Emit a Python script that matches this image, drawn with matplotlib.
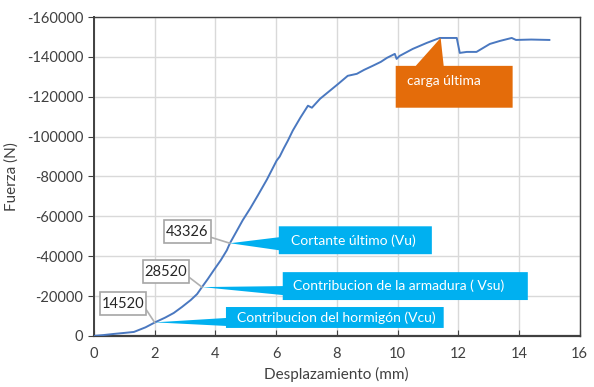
import matplotlib.pyplot as plt
from matplotlib.patches import Polygon, Rectangle

plt.rcParams['font.family'] = ['Lato', 'DejaVu Sans']
plt.rcParams['axes.unicode_minus'] = False

# desplazamiento (mm) y fuerza (N)
disp = [0.0, 0.3, 0.66, 1.0, 1.32, 1.7, 2.04, 2.35, 2.63, 2.9, 3.19, 3.4, 3.56, 3.75,
        3.95, 4.18, 4.38, 4.48, 4.7, 4.9, 5.15, 5.4, 5.7, 6.02, 6.12, 6.25, 6.39,
        6.55, 6.8, 7.05, 7.18, 7.45, 7.77, 8.05, 8.36, 8.66, 8.9, 9.18, 9.45, 9.65,
        9.91, 9.97, 10.07, 10.5, 10.96, 11.39, 11.95, 12.05, 12.28, 12.6, 13.04,
        13.37, 13.76, 13.9, 14.4, 15.0]
force = [0, -400, -1000, -1500, -2000, -4300, -7000, -9200, -11500, -14500, -18000,
         -21000, -24500, -28500, -33000, -38000, -43000, -46500, -52500, -58000,
         -64000, -70500, -78500, -88000, -90000, -94000, -98000, -103000, -109500,
         -115500, -114500, -119000, -123000, -126500, -130500, -131500, -133500,
         -135500, -137500, -139500, -141500, -139000, -140500, -144000, -147000,
         -149500, -149500, -142000, -142500, -142500, -146500, -148000, -149500,
         -148500, -148700, -148500]

# puntos marcados y sus etiquetas
mark_x = [2.0, 3.56, 4.48]
mark_y = [-6800, -24500, -46500]
mark_labels = ['14520', '28520', '43326']
blue_labels = ['Contribucion del hormigón (Vcu)', 'Contribucion de la armadura ( Vsu)',
               'Cortante último (Vu)']
peak_x, peak_y = 11.42, -149500

fig = plt.figure(figsize=(5.94, 3.87), dpi=100)
ax = fig.add_axes([0.158, 0.132, 0.818, 0.824])

ax.plot(disp, force, color='#4A78C0', lw=1.4, zorder=3)

ax.set_xlim(0, 16)
ax.set_ylim(0, -160000)
ax.set_xticks(range(0, 17, 2))
ax.set_yticks(range(0, -160001, -20000))
ax.grid(color='#d9d9d9', lw=1)
ax.set_axisbelow(True)
ax.tick_params(axis='x', direction='in', length=4, labelsize=10.5, colors='#404040', pad=8)
ax.tick_params(axis='y', direction='out', length=4, labelsize=10.5, colors='#404040')
for s in ax.spines.values():
    s.set_color('#404040')
    s.set_linewidth(1.0)
ax.spines['bottom'].set_linewidth(1.6)
ax.spines['left'].set_linewidth(1.4)
ax.set_xlabel('Desplazamiento (mm)', fontsize=11, color='#404040', labelpad=4)
ax.set_ylabel('Fuerza (N)', fontsize=11, color='#404040', labelpad=6)

blue = '#00B0F0'
# cajas azules: (x0, x1, y0, y1, base0, base1, text_x)
blue_boxes = [
    (4.35, 11.52, -4000, -14500, -5000, -9000, 4.7),
    (6.22, 14.29, -18000, -32000, -20500, -25000, 6.55),
    (6.09, 11.13, -41000, -55000, -43000, -49500, 6.49),
]
for (x0, x1, y0, y1, b0, b1, tx), mx, my, lab in zip(blue_boxes, mark_x, mark_y, blue_labels):
    ax.add_patch(Polygon([(x0, y0), (x1, y0), (x1, y1), (x0, y1), (x0, b1), (mx, my), (x0, b0)],
                         closed=True, facecolor=blue, edgecolor='none', zorder=4))
    ax.text(tx, (y0 + y1) / 2, lab, color='white', fontsize=10, va='center', ha='left', zorder=5)

# cajas de valores
value_boxes = [
    (0.2, 1.71, -10500, -22000, -13500),
    (1.61, 3.13, -26500, -38000, -29500),
    (2.30, 3.85, -46500, -58000, -49500),
]
for (x0, x1, y0, y1, ly), mx, my, lab in zip(value_boxes, mark_x, mark_y, mark_labels):
    ax.plot([x1, mx], [ly, my], color='#b0b0b0', lw=1.2, zorder=4)
    ax.add_patch(Rectangle((x0, y0), x1 - x0, y1 - y0, facecolor='white',
                           edgecolor='#a6a6a6', lw=1.2, zorder=5))
    ax.text((x0 + x1) / 2, (y0 + y1) / 2, lab, color='#262626', fontsize=10.5,
            ha='center', va='center', zorder=6)

# carga ultima
ox0, ox1, oy0, oy1 = 9.94, 13.79, -114500, -135500
ax.add_patch(Polygon([(ox0, oy0), (ox1, oy0), (ox1, oy1), (11.52, oy1), (peak_x, peak_y),
                      (10.6, oy1), (ox0, oy1)], closed=True, facecolor='#E46C0A',
                     edgecolor='none', zorder=4))
ax.text(10.3, -128000, 'carga última', color='white', fontsize=10, va='center', zorder=5)

fig.savefig('out.png', dpi=100)
